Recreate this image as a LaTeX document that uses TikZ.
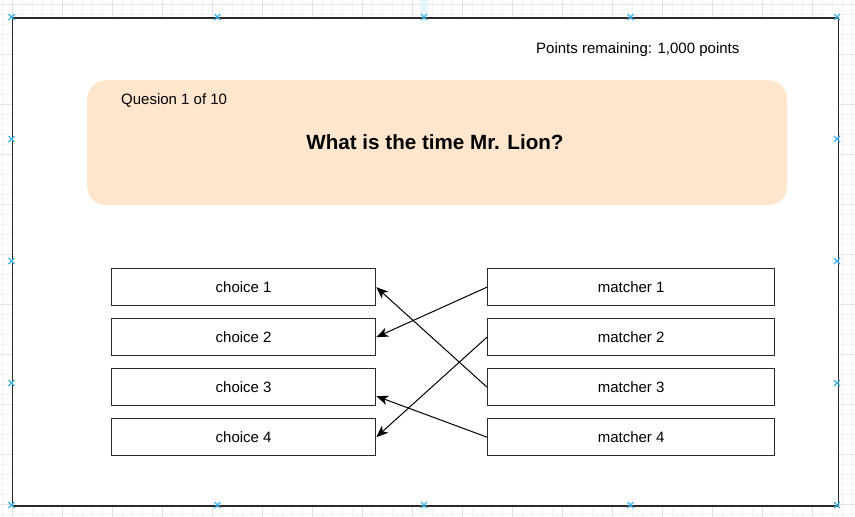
\documentclass[tikz,border=0pt]{standalone}
\usepackage{fontspec}
\setmainfont{Liberation Sans}
\usetikzlibrary{arrows.meta,calc}
\definecolor{gridmin}{HTML}{F3F3F3}
\definecolor{gridmaj}{HTML}{E2E2E2}
\definecolor{qfill}{HTML}{FFE6CC}
\definecolor{handle}{HTML}{3DB2E8}
\definecolor{boxline}{HTML}{2A2A2A}
\tikzset{
  optbox/.style={draw=boxline, line width=1.3pt, fill=white, minimum height=37pt, anchor=north west, inner sep=0pt, font=\fontsize{15pt}{18pt}\selectfont},
  choicebox/.style={optbox, minimum width=264pt},
  matchbox/.style={optbox, minimum width=287pt},
  link/.style={draw=black, line width=1pt, -{Stealth[length=12pt,width=9.5pt,inset=3.5pt]}},
  plain/.style={inner sep=0pt, font=\fontsize{15pt}{18pt}\selectfont},
  hmark/.style={handle, line width=1.3pt},
}
\begin{document}
\begin{tikzpicture}[x=1pt,y=-1pt]
\useasboundingbox (0,0) rectangle (855,517);
% grid
\foreach \x in {2,12,...,852} \draw[gridmin, line width=0.6pt] (\x,0) -- (\x,517);
\foreach \y in {4,14,...,514} \draw[gridmin, line width=0.6pt] (0,\y) -- (855,\y);
\foreach \x in {12,62,...,852} \draw[gridmaj, line width=0.8pt] (\x,0) -- (\x,517);
\foreach \y in {4,54,...,514} \draw[gridmaj, line width=0.8pt] (0,\y) -- (855,\y);
% frame
\node[draw=boxline, line width=1.6pt, fill=white, minimum width=826pt, minimum height=488pt, anchor=north west, inner sep=0pt] (frame) at (11.5,17) {};
\fill[handle!12] (420,0) rectangle (428,15);
% handles
\foreach \x in {11.5,217.5,424,630.5,837} {
  \foreach \y in {17,505} {
    \draw[hmark] (\x-3,\y-3) -- (\x+3,\y+3) (\x-3,\y+3) -- (\x+3,\y-3);
  }
}
\foreach \x in {11.5,837} {
  \foreach \y in {139,261,383} {
    \draw[hmark] (\x-3,\y-3) -- (\x+3,\y+3) (\x-3,\y+3) -- (\x+3,\y-3);
  }
}
% points
\node[plain, anchor=west] (points) at (536,50) {Points remaining: 1,000 points};
% question panel
\node[fill=qfill, rounded corners=19pt, minimum width=700pt, minimum height=125pt, anchor=north west, inner sep=0pt] (panel) at (87,80) {};
\node[plain, anchor=west] (qnum) at (121,100.5) {Quesion 1 of 10};
\node[inner sep=0pt, font=\fontsize{20.6pt}{24pt}\selectfont\bfseries] (title) at (435,142) {What is the time Mr. Lion?};
% choices
\node[choicebox] (c1) at (111,268) {choice 1};
\node[choicebox] (c2) at (111,318) {choice 2};
\node[choicebox] (c3) at (111,368) {choice 3};
\node[choicebox] (c4) at (111,418) {choice 4};
% matchers
\node[matchbox] (m1) at (487,268) {matcher 1};
\node[matchbox] (m2) at (487,318) {matcher 2};
\node[matchbox] (m3) at (487,368) {matcher 3};
\node[matchbox] (m4) at (487,418) {matcher 4};
% links
\coordinate (c3t) at ($(c3.east)+(0,9)$);
\draw[link] (m1.west) -- (c2.east);
\draw[link] (m2.west) -- (c4.east);
\draw[link] (m3.west) -- (c1.east);
\draw[link] (m4.west) -- (c3t);
\end{tikzpicture}
\end{document}
